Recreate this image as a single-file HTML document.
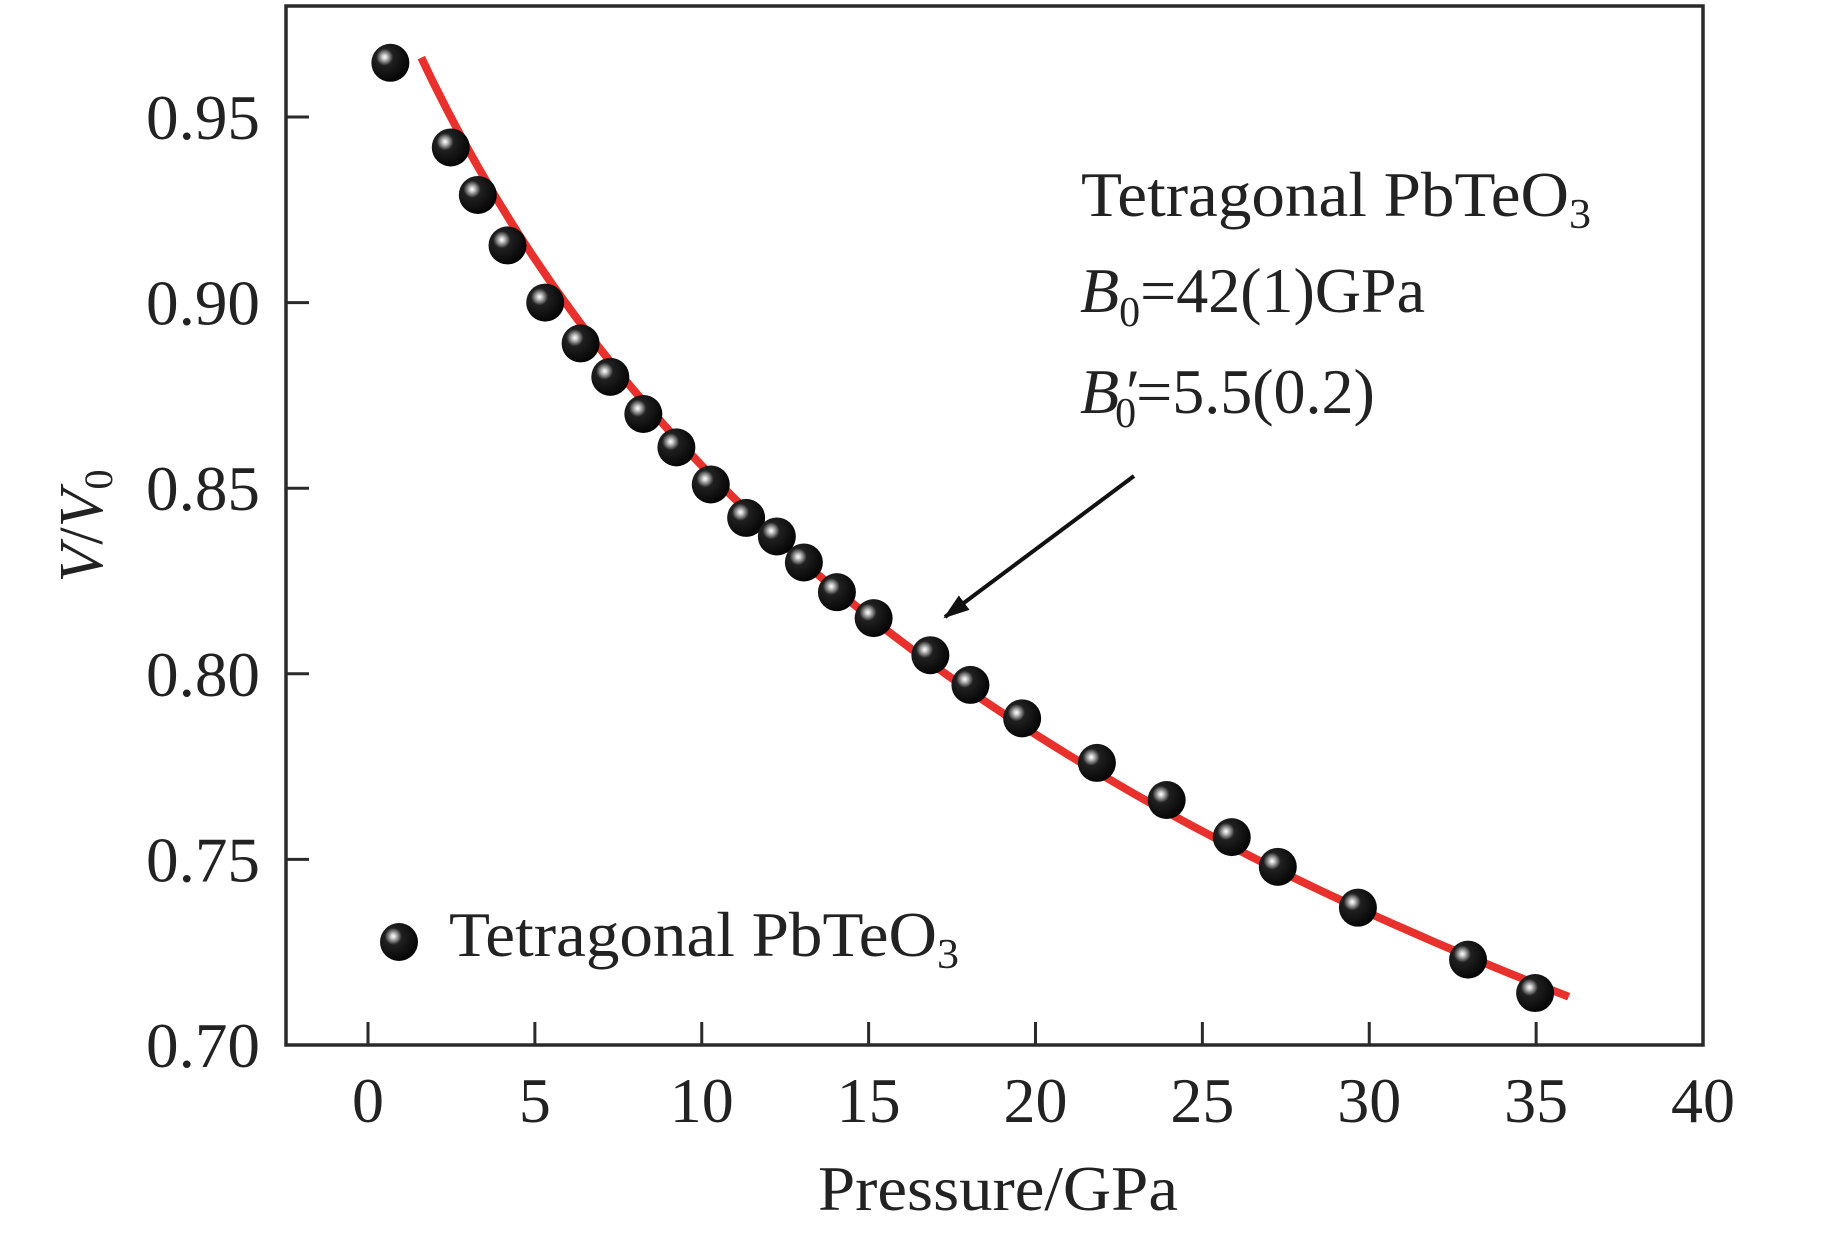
<!DOCTYPE html>
<html><head><meta charset="utf-8"><style>
html,body{margin:0;padding:0;background:#fff;}
svg{display:block;font-family:"Liberation Serif","DejaVu Serif",serif;}
</style></head><body>
<svg id="chart" width="1843" height="1235" viewBox="0 0 1843 1235" xmlns="http://www.w3.org/2000/svg">
<defs>
<radialGradient id="ball" cx="0.35" cy="0.35" r="0.75">
<stop offset="0" stop-color="#ffffff"/>
<stop offset="0.08" stop-color="#d0d0d0"/>
<stop offset="0.18" stop-color="#808080"/>
<stop offset="0.3" stop-color="#202020"/>
<stop offset="1" stop-color="#000"/>
</radialGradient>
<marker id="arrowhead" markerWidth="26" markerHeight="18" refX="24" refY="9" orient="auto" markerUnits="userSpaceOnUse" viewBox="0 0 26 18">
<path d="M0,0 L26,9 L0,18 Z" fill="#111"/>
</marker>
</defs>
<g id="curve-layer"></g>
<g id="points-layer"></g>
<rect x="286" y="6" width="1417" height="1039" fill="none" stroke="#2a2a2a" stroke-width="3.5"/>
<g id="axes-layer"></g>
<text x="998" y="1210" font-size="64" text-anchor="middle" fill="#222" textLength="360" lengthAdjust="spacingAndGlyphs">Pressure/GPa</text>
<text transform="translate(102,526) rotate(-90)" font-size="62" text-anchor="middle" fill="#222"><tspan font-style="italic">V</tspan>/<tspan font-style="italic">V</tspan><tspan font-size="40" dy="10">0</tspan></text>
<g fill="#222">
<text x="1081" y="216" font-size="64" textLength="510" lengthAdjust="spacingAndGlyphs">Tetragonal PbTeO<tspan font-size="42" dy="12">3</tspan></text>
<text x="1080" y="312" font-size="64"><tspan font-style="italic">B</tspan><tspan font-size="42" dy="14">0</tspan><tspan dy="-14">=42(1)GPa</tspan></text>
<text x="1080" y="413" font-size="64"><tspan font-style="italic">B</tspan><tspan font-size="42" dy="14" dx="-4">0</tspan><tspan dy="-14" dx="-14" font-style="italic">′</tspan><tspan>=5.5(0.2)</tspan></text>
</g>
<line x1="1134" y1="476" x2="945" y2="617" stroke="#111" stroke-width="4" marker-end="url(#arrowhead)"/>
<g>
<circle cx="399" cy="942" r="19" fill="url(#ball)"/>
<text x="449" y="956" font-size="64" fill="#222" textLength="510" lengthAdjust="spacingAndGlyphs">Tetragonal PbTeO<tspan font-size="42" dy="12">3</tspan></text>
</g>
</svg>
<script>
const pressures=[0.67,2.48,3.29,4.18,5.31,6.37,7.26,8.25,9.24,10.27,11.33,12.25,13.06,14.05,15.15,16.85,18.05,19.6,21.84,23.93,25.88,27.26,29.66,32.96,34.97];
const volumes=[0.9646,0.9418,0.929,0.9154,0.900,0.889,0.880,0.870,0.861,0.851,0.842,0.837,0.830,0.822,0.815,0.805,0.797,0.788,0.776,0.766,0.756,0.748,0.737,0.723,0.714];
const xTicks=[0,5,10,15,20,25,30,35,40];
const yTicks=[0.70,0.75,0.80,0.85,0.90,0.95];
const yTickLabels=["0.70","0.75","0.80","0.85","0.90","0.95"];
const fitB0=[42];
const fitB0p=[5.5];
const fitRange=[0.966,0.713];

const NS="http://www.w3.org/2000/svg";
function xs(p){return 368+(p-0)*(1703-368)/40;}
function ys(v){return 1045-(v-0.70)*(1045-117)/0.25;}
function mk(tag,attrs,parent){const e=document.createElementNS(NS,tag);for(const k in attrs)e.setAttribute(k,attrs[k]);parent.appendChild(e);return e;}

const axes=document.getElementById('axes-layer');
xTicks.forEach(t=>{
  const l=mk('line',{x1:xs(t),x2:xs(t),y1:1045,y2:1022,stroke:'#2a2a2a','stroke-width':3},axes);
  
  
  const tx=mk('text',{x:xs(t),y:1122,'font-size':64,'text-anchor':'middle',fill:'#222'},axes);
  tx.textContent=String(t);
  
  
});
yTicks.forEach((t,i)=>{
  const l=mk('line',{x1:286,x2:309,y1:ys(t),y2:ys(t),stroke:'#2a2a2a','stroke-width':3},axes);
  
  
  const tx=mk('text',{x:260,y:ys(t)+22,'font-size':64,'text-anchor':'end',fill:'#222',textLength:114,lengthAdjust:'spacingAndGlyphs'},axes);
  tx.textContent=yTickLabels[i];
  
  
});

function bm(x){const B=fitB0[0],Bp=fitB0p[0];const a=Math.pow(x,-2/3);return 1.5*B*(Math.pow(x,-7/3)-Math.pow(x,-5/3))*(1+0.75*(Bp-4)*(a-1));}
let d='';const n=120;
for(let i=0;i<=n;i++){const v=fitRange[0]+(fitRange[1]-fitRange[0])*i/n;const p=bm(v);d+=(i?'L':'M')+xs(p).toFixed(1)+','+ys(v).toFixed(1);}
const curve=mk('path',{d:d,fill:'none',stroke:'#e8312c','stroke-width':8},document.getElementById('curve-layer'));



const pl=document.getElementById('points-layer');
pressures.forEach((p,i)=>{
  const c=mk('circle',{cx:xs(p),cy:ys(volumes[i]),r:19,fill:'url(#ball)'},pl);
  
  
});
</script>
</body></html>
